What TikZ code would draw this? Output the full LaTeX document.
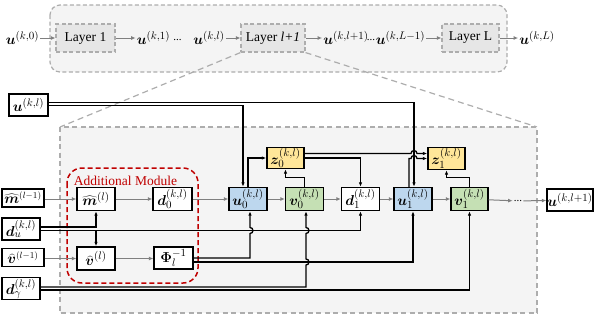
\documentclass[tikz,border=0pt]{standalone}
\usepackage{fontspec}
\setmainfont{Liberation Serif}
\usepackage{bm}
\usetikzlibrary{arrows.meta}
\definecolor{bgray}{HTML}{F4F4F4}
\definecolor{lgray}{HTML}{E6E6E6}
\definecolor{dgray}{HTML}{ADADAD}
\definecolor{agray}{HTML}{7F7F7F}
\definecolor{ublue}{HTML}{BDD7EE}
\definecolor{vgreen}{HTML}{C5E0B4}
\definecolor{zyellow}{HTML}{FFE699}
\definecolor{mred}{HTML}{C00000}
\begin{document}
\begin{tikzpicture}[x=1pt,y=-1pt,
  font=\fontsize{15}{18}\selectfont,
  blk/.style={draw=black,line width=1.4pt,fill=white,inner sep=0pt,minimum width=38pt,minimum height=23pt},
  lyr/.style={draw=dgray,dash pattern=on 4pt off 2.5pt,line width=1.2pt,fill=lgray,inner sep=0pt,minimum width=59pt,minimum height=28pt,font=\fontsize{13.5}{16}\selectfont},
  lbl/.style={inner sep=1pt},
  garr/.style={draw=agray,line width=1pt,-{Latex[length=4.5pt,width=4pt]}},
  conn/.style={draw=black,line width=1.3pt,-{Latex[length=4.5pt,width=3.5pt]}},
  zoomln/.style={draw=dgray,dash pattern=on 6pt off 4pt,line width=1.2pt},
]
\useasboundingbox (0,0) rectangle (594,316);

% ---------- top strip ----------
\draw[draw=dgray,dash pattern=on 4pt off 2.5pt,line width=1.2pt,fill=bgray,rounded corners=10pt] (50,5) rectangle (507,72);
\node[lyr] (L1) at (85.5,38) {Layer 1};
\node[lyr,minimum width=64pt] (Llp) at (273,38) {Layer \textit{l+1}};
\node[lyr,minimum width=57pt] (LL) at (470.5,38) {Layer L};
\node[lbl] (t0) at (22.5,38) {$\bm{u}^{(k,0)}$};
\node[lbl] (t1) at (153.5,38) {$\bm{u}^{(k,1)}$};
\node[lbl,font=\fontsize{11}{12}\selectfont] (td1) at (177.5,40) {...};
\node[lbl] (tl) at (209,38) {$\bm{u}^{(k,l)}$};
\node[lbl] (tlp) at (346,38) {$\bm{u}^{(k,l+1)}$};
\node[lbl,font=\fontsize{11}{12}\selectfont] (td2) at (371,40) {...};
\node[lbl] (tLm) at (400.5,38) {$\bm{u}^{(k,L-1)}$};
\node[lbl] (tL) at (537,38) {$\bm{u}^{(k,L)}$};
\draw[garr] (t0) -- (L1);
\draw[garr] (L1) -- (t1);
\draw[garr] (tl) -- (Llp);
\draw[garr] (Llp) -- (tlp);
\draw[garr] (tLm) -- (LL);
\draw[garr] (LL) -- (tL);

% ---------- zoom lines and lower panel ----------
\coordinate (bl) at (60,127);
\coordinate (br) at (537,127);
\draw[zoomln] (Llp.south west) -- (bl);
\draw[zoomln] (Llp.south east) -- (br);
\draw[draw=dgray,dash pattern=on 5pt off 3.5pt,line width=1.2pt,fill=bgray] (60,127) rectangle (537,313);
\draw[mred,dash pattern=on 5pt off 3pt,line width=1.5pt,rounded corners=15pt] (67,168) rectangle (198,283);
\node[mred,lbl,font=\fontsize{13.5}{16}\selectfont] (am) at (125.5,180.5) {Additional Module};

% ---------- input boxes ----------
\node[blk,minimum width=39pt,minimum height=22pt] (uin) at (28.5,105) {$\bm{u}^{(k,l)}$};
\node[blk,minimum width=42pt,minimum height=18pt,font=\fontsize{13.5}{16}\selectfont] (mprev) at (23,198) {$\widehat{\bm{m}}^{(l-1)}$};
\node[blk,minimum width=38pt,minimum height=22pt] (duin) at (21,229) {$\bm{d}_{u}^{(k,l)}$};
\node[blk,minimum width=42pt,minimum height=18pt,font=\fontsize{13.5}{16}\selectfont] (vprev) at (23,257.5) {$\widehat{\bm{v}}^{(l-1)}$};
\node[blk,minimum width=38pt,minimum height=22pt] (dgin) at (21,288.5) {$\bm{d}_{\gamma}^{(k,l)}$};

% ---------- inner boxes ----------
\node[blk] (mh) at (96,199) {$\widehat{\bm{m}}^{(l)}$};
\node[blk] (vh) at (96,258.5) {$\widehat{\bm{v}}^{(l)}$};
\node[blk,minimum width=39pt] (d0) at (172.5,199) {$\bm{d}_0^{(k,l)}$};
\node[blk,minimum width=39pt,minimum height=22pt] (phi) at (173.5,258) {$\bm{\Phi}_l^{-1}$};
\node[blk,fill=ublue] (u0) at (248,199) {$\bm{u}_0^{(k,l)}$};
\node[blk,fill=vgreen] (v0) at (304.5,199) {$\bm{v}_0^{(k,l)}$};
\node[blk] (d1) at (360.5,199) {$\bm{d}_1^{(k,l)}$};
\node[blk,fill=ublue] (u1) at (413,199) {$\bm{u}_1^{(k,l)}$};
\node[blk,fill=vgreen,minimum width=37pt] (v1) at (469.5,199) {$\bm{v}_1^{(k,l)}$};
\node[lbl,font=\fontsize{11}{12}\selectfont] (dots) at (518,201) {...};
\node[blk,minimum width=46pt,minimum height=22pt] (uout) at (570,200) {$\bm{u}^{(k,l+1)}$};
\node[blk,fill=zyellow,minimum width=37pt,minimum height=21pt] (z0) at (285.5,158) {$\bm{z}_0^{(k,l)}$};
\node[blk,fill=zyellow,minimum width=37pt,minimum height=22pt] (z1) at (446.5,158.5) {$\bm{z}_1^{(k,l)}$};

% ---------- gray chain ----------
\draw[garr] (mprev.east |- mh.west) -- (mh.west);
\draw[garr] (mh) -- (d0);
\draw[garr] (d0) -- (u0);
\draw[garr] (u0) -- (v0);
\draw[garr] (v0) -- (d1);
\draw[garr] (d1) -- (u1);
\draw[garr] (u1) -- (v1);
\draw[garr] (v1) -- (dots);
\draw[garr] (dots) -- (uout);
\draw[garr] (vprev.east |- vh.west) -- (vh.west);
\draw[garr] (vh) -- (phi.west |- vh.east);

% ---------- black connectors ----------
% u^(k,l) input
\draw[conn] ([yshift=2.5pt]uin.east) -| ([xshift=1pt]u1.north);
\draw[conn] ([yshift=-0.5pt]uin.east) -| ([xshift=-5pt]u0.north);
% to z0
\draw[conn] (u0.north) |- (z0.west);
\draw[conn] (v0.north) -- ++(0,-9) -| (z0.south);
% from z0
\draw[conn] ([yshift=4.5pt]z0.east) -- (411,153.5) arc[start angle=180,end angle=0,radius=3pt] -- ([yshift=5pt]z1.west);
\draw[conn] (z0.east) -| (d1.north);
% to z1
\draw[conn] ([xshift=-4pt]u1.north) -- (409,158.5) -- (411,158.5) arc[start angle=180,end angle=0,radius=3pt] -- (z1.west);
\draw[conn] (v1.north) -- ++(0,-9) -| (z1.south);
% d_u
\draw[conn] ([yshift=2pt]duin.east) -| (mh.south);
\draw[conn] ([yshift=-1.5pt]duin.east) -| (d1.south);
\coordinate (jdu) at (96,230.5);
\draw[conn] (jdu) -- (vh.north);
% Phi
\draw[conn] (phi.east) -- (250,258) -- (250,233.5) arc[start angle=-90,end angle=90,radius=3pt] -- ([xshift=2pt]u0.south);
\draw[conn] ([yshift=-4pt]phi.east) -| (u1.south);
% d_gamma
\draw[conn] ([yshift=1.5pt]dgin.east) -- (306,287) -- (306,265) arc[start angle=-90,end angle=90,radius=3pt] -- (306,233.5) arc[start angle=-90,end angle=90,radius=3pt] -- ([xshift=1.5pt]v0.south);
\draw[conn] ([yshift=-1.5pt]dgin.east) -| (v1.south);
\end{tikzpicture}
\end{document}
